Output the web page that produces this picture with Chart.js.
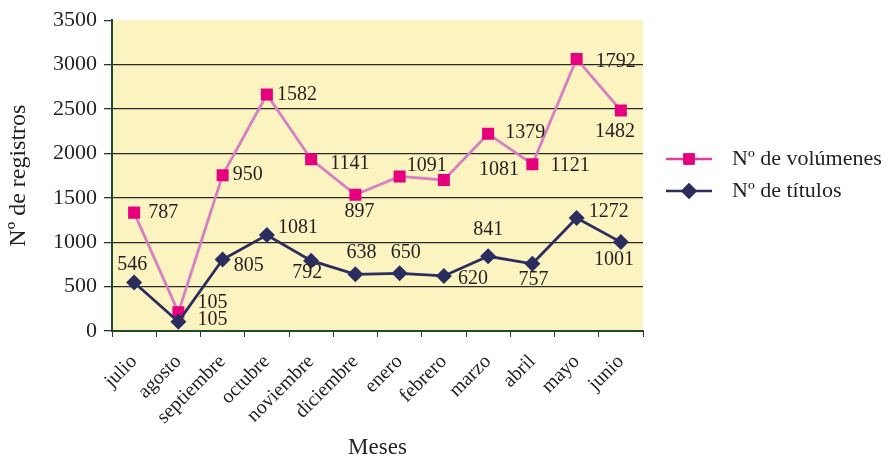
<!DOCTYPE html>
<html>
<head>
<meta charset="utf-8">
<script src="https://cdn.jsdelivr.net/npm/chart.js@4/dist/chart.umd.min.js"></script>
<style>
html, body { margin: 0; padding: 0; background: #fff; }
</style>
</head>
<body>
<canvas id="chart" width="888" height="464"></canvas>
<script>
// data (stacked: volúmenes sits on top of títulos)
const meses = ['julio', 'agosto', 'septiembre', 'octubre', 'noviembre', 'diciembre',
	'enero', 'febrero', 'marzo', 'abril', 'mayo', 'junio'];
const titulos = [546, 105, 805, 1081, 792, 638, 650, 620, 841, 757, 1272, 1001];
const volumenes = [787, 105, 950, 1582, 1141, 897, 1091, 1081, 1379, 1121, 1792, 1482];
const yTicks = { min: 0, max: 3500, step: 500 };

// where each value label sits relative to its point: [dx, dy, align]
const titulosLabelPos = [[-2, -18, 'center'], [19, -2, 'left'], [11, 6, 'left'], [11, -7, 'left'],
	[-4, 12, 'center'], [6, -22, 'center'], [6, -21, 'center'], [14, 3, 'left'],
	[0, -27, 'center'], [1, 16, 'center'], [12, -6, 'left'], [-7, 18, 'center']];
const volumenesLabelPos = [[14, 0, 'left'], [19, -10, 'left'], [10, 0, 'left'], [10, 0, 'left'],
	[19, 4, 'left'], [4, 17, 'center'], [7, -11, 'left'], [35, -10, 'left'],
	[17, -1, 'left'], [18, 2, 'left'], [19, 3, 'left'], [-6, 21, 'center']];

const FONT = "'Liberation Serif', 'Times New Roman', serif";
const TEXT = '#231f20';
const PINK_LINE = '#d77fc3';
const PINK_MARK = '#e6007e';
const NAVY = '#2b2d5e';
const AXIS = '#1f4a2c';

const plotBg = {
	id: 'plotBg',
	beforeDraw(chart) {
		let a = chart.chartArea;
		let ctx = chart.ctx;
		ctx.save();
		ctx.fillStyle = '#fbf3c0';
		ctx.fillRect(a.left, a.top, a.right - a.left, a.bottom - a.top);
		ctx.restore();
	}
};

const valueLabels = {
	id: 'valueLabels',
	afterDatasetsDraw(chart) {
		let ctx = chart.ctx;
		ctx.save();
		ctx.font = '20px ' + FONT;
		ctx.fillStyle = TEXT;
		ctx.textBaseline = 'middle';
		chart.data.datasets.forEach((ds, i) => {
			let meta = chart.getDatasetMeta(i);
			meta.data.forEach((pt, j) => {
				let p = ds.labelPos[j];
				ctx.textAlign = p[2];
				ctx.fillText(String(ds.data[j]), pt.x + p[0], pt.y + p[1]);
			});
		});
		ctx.restore();
	}
};

// legend drawn by hand: line with marker in the middle, like the original
const sideLegend = {
	id: 'sideLegend',
	afterDraw(chart) {
		let ctx = chart.ctx;
		let items = [
			{ text: 'Nº de volúmenes', line: '#e0409c', mark: PINK_MARK, shape: 'rect', y: 159 },
			{ text: 'Nº de títulos', line: NAVY, mark: NAVY, shape: 'rectRot', y: 191 }
		];
		ctx.save();
		items.forEach(it => {
			ctx.strokeStyle = it.line;
			ctx.lineWidth = 2.5;
			ctx.beginPath();
			ctx.moveTo(666, it.y);
			ctx.lineTo(712, it.y);
			ctx.stroke();
			ctx.fillStyle = it.mark;
			Chart.helpers.drawPoint(ctx, { pointStyle: it.shape, radius: 8, borderWidth: 0 }, 689, it.y);
			ctx.fill();
			ctx.fillStyle = TEXT;
			ctx.font = '22px ' + FONT;
			ctx.textAlign = 'left';
			ctx.textBaseline = 'middle';
			ctx.fillText(it.text, 732, it.y);
		});
		ctx.restore();
	}
};

const ctx = document.getElementById('chart').getContext('2d');
new Chart(ctx, {
	type: 'line',
	data: {
		labels: meses,
		datasets: [
			{
				label: 'Nº de títulos',
				data: titulos,
				labelPos: titulosLabelPos,
				borderColor: NAVY,
				borderWidth: 2.8,
				pointStyle: 'rectRot',
				pointRadius: 8,
				pointBackgroundColor: NAVY,
				pointBorderWidth: 0,
				tension: 0
			},
			{
				label: 'Nº de volúmenes',
				data: volumenes,
				labelPos: volumenesLabelPos,
				borderColor: PINK_LINE,
				borderWidth: 2.8,
				pointStyle: 'rect',
				pointRadius: 8.5,
				pointBackgroundColor: PINK_MARK,
				pointBorderWidth: 0,
				tension: 0
			}
		]
	},
	options: {
		responsive: false,
		animation: false,
		devicePixelRatio: 1,
		layout: { padding: { top: 17, right: 245, left: 0, bottom: 0 } },
		plugins: {
			legend: { display: false },
			tooltip: { enabled: false }
		},
		scales: {
			x: {
				offset: true,
				afterFit(scale) { scale.height = 133; },
				grid: { offset: true, drawOnChartArea: false, drawTicks: true, tickLength: 6, tickColor: '#333' },
				border: { color: AXIS, width: 2 },
				ticks: {
					autoSkip: false, minRotation: 45, maxRotation: 45, padding: 13,
					color: TEXT, font: { family: FONT, size: 20 }
				},
				title: {
					display: true, text: 'Meses', color: TEXT,
					font: { family: FONT, size: 23 }, padding: { top: 0, bottom: 2 }
				}
			},
			y: {
				stacked: true,
				min: yTicks.min,
				max: yTicks.max,
				afterFit(scale) { scale.width = 112; },
				grid: {
					color: c => (c.tick && (c.tick.value === yTicks.min || c.tick.value === yTicks.max)) ? 'rgba(0,0,0,0)' : '#2a2a2a',
					lineWidth: 1.3,
					tickLength: 8,
					tickColor: '#333'
				},
				border: { color: AXIS, width: 2 },
				ticks: {
					stepSize: yTicks.step, padding: 7,
					callback: v => String(v),
					color: TEXT, font: { family: FONT, size: 22 }
				},
				title: {
					display: true, text: 'Nº de registros', color: TEXT,
					font: { family: FONT, size: 24 }, padding: { top: 4, bottom: 0 }
				}
			}
		}
	},
	plugins: [plotBg, valueLabels, sideLegend]
});
</script>
</body>
</html>
